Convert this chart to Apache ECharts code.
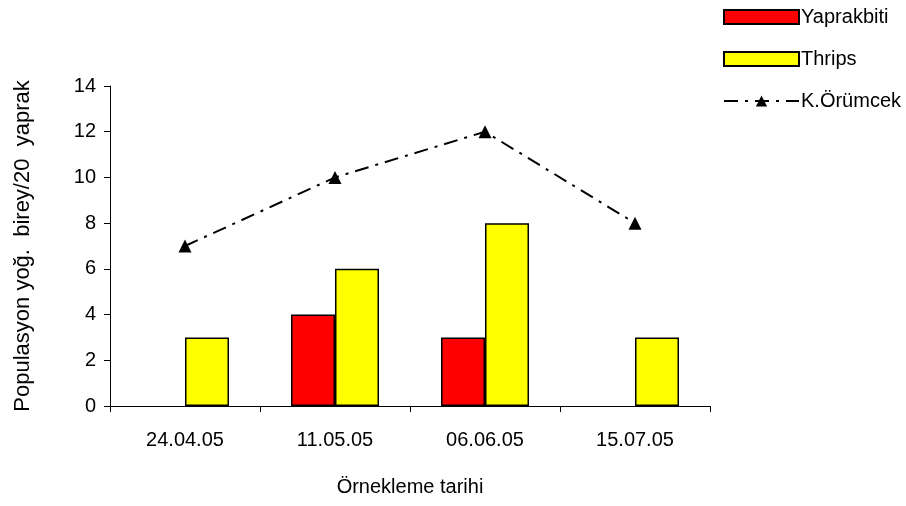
<!DOCTYPE html>
<html><head><meta charset="utf-8">
<script src="https://cdn.jsdelivr.net/npm/echarts@6/dist/echarts.min.js"></script>
<style>html,body{margin:0;padding:0;background:#fff}#c{width:906px;height:506px}</style>
</head><body><div id="c"></div>
<script>
const categories = ['24.04.05', '11.05.05', '06.06.05', '15.07.05'];
const yaprakbiti = ['-', 4, 3, '-'];
const thrips = [3, 6, 8, 3];
const orumcek = [7, 10, 12, 8];
const yTicks = [0, 2, 4, 6, 8, 10, 12, 14];

const font = 'Liberation Sans, Arial, sans-serif';
const chart = echarts.init(document.getElementById('c'), null, {renderer: 'canvas'});
chart.setOption({
  animation: false,
  backgroundColor: '#fff',
  textStyle: {fontFamily: font, color: '#000'},
  legend: {
    orient: 'vertical', left: 718, top: 2, itemWidth: 75, itemHeight: 14, itemGap: 22,
    textStyle: {fontFamily: font, fontSize: 20, color: '#000', padding: [0, 0, 0, -3]},
    data: [
      {name: 'Yaprakbiti', icon: 'rect'},
      {name: 'Thrips', icon: 'rect'},
      {name: 'K.Örümcek'}
    ]
  },
  grid: {left: 110, right: 196, top: 86, bottom: 100, containLabel: false},
  xAxis: {
    type: 'category', data: categories,
    name: 'Örnekleme tarihi', nameLocation: 'middle', nameGap: 71,
    nameTextStyle: {fontFamily: font, fontSize: 20, color: '#000'},
    axisLine: {lineStyle: {color: '#000', width: 1}},
    axisTick: {show: true, length: 6, lineStyle: {color: '#000'}},
    axisLabel: {fontFamily: font, fontSize: 20, color: '#000', margin: 24},
    splitLine: {show: false}
  },
  yAxis: {
    type: 'value', min: yTicks[0], max: yTicks[yTicks.length - 1], interval: 2,
    name: 'Populasyon yoğ.  birey/20  yaprak', nameLocation: 'middle', nameGap: 76,
    nameTextStyle: {fontFamily: font, fontSize: 22, color: '#000'},
    axisLine: {show: true, lineStyle: {color: '#000', width: 1}},
    axisTick: {show: true, length: 6, lineStyle: {color: '#000'}},
    axisLabel: {fontFamily: font, fontSize: 20, color: '#000', margin: 14},
    splitLine: {show: false}
  },
  series: [
    {
      name: 'Yaprakbiti', type: 'bar', data: yaprakbiti, barWidth: 44, barGap: '0%',
      itemStyle: {color: '#ff0000', borderColor: '#000', borderWidth: 1.5}
    },
    {
      name: 'Thrips', type: 'bar', data: thrips, barWidth: 44, barGap: '0%',
      itemStyle: {color: '#ffff00', borderColor: '#000', borderWidth: 1.5}
    },
    {
      name: 'K.Örümcek', type: 'line', data: orumcek,
      symbol: 'triangle', symbolSize: 13,
      lineStyle: {color: '#000', width: 2, type: [14, 7, 3, 7]},
      itemStyle: {color: '#000'}
    }
  ]
});
</script></body></html>
